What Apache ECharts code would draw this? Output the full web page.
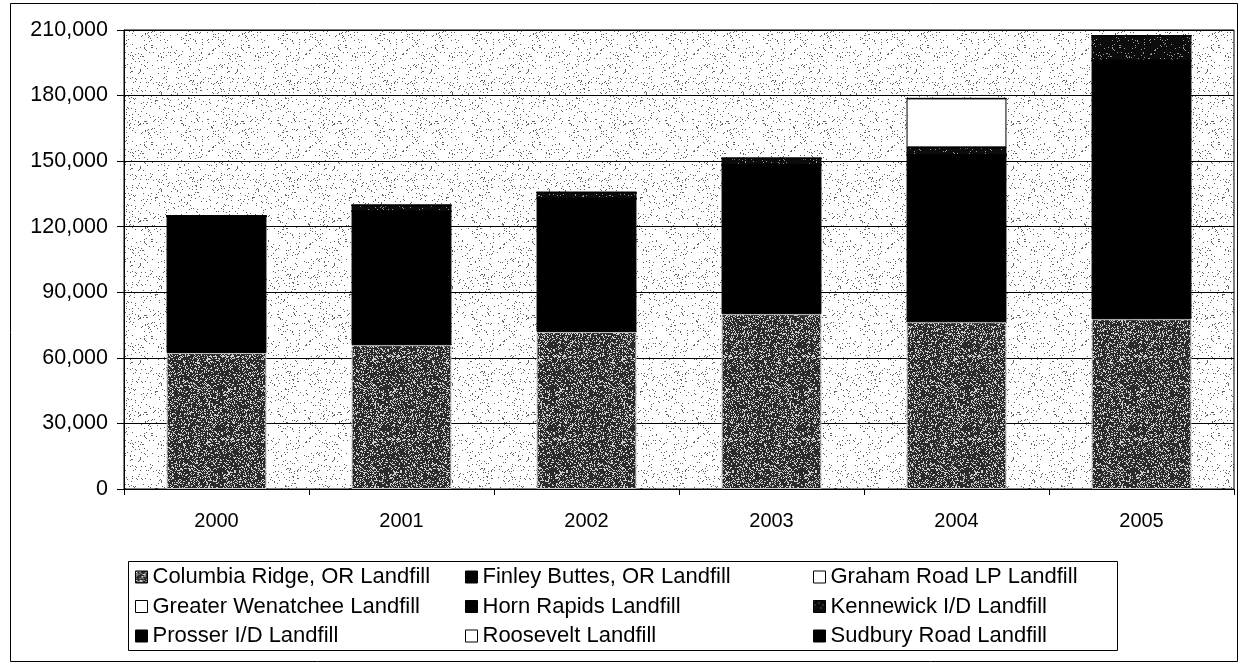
<!DOCTYPE html>
<html>
<head>
<meta charset="utf-8">
<script src="https://cdn.jsdelivr.net/npm/echarts@6/dist/echarts.min.js"></script>
<style>
  html, body { margin: 0; padding: 0; background: #fff; }
  #chart { width: 1242px; height: 666px; }
</style>
</head>
<body>
<div id="chart"></div>
<script>
// Tonnage delivered to each landfill, by year
const years = ['2000', '2001', '2002', '2003', '2004', '2005'];
const columbiaRidge    = [62200, 65800, 71800, 80000, 76300, 77700];
const finleyButtes     = [62600, 61300, 61200, 68300, 76500, 118300];
const grahamRoad       = [0, 0, 0, 0, 0, 0];
const greaterWenatchee = [0, 0, 0, 0, 0, 0];
const hornRapids       = [0, 0, 0, 0, 0, 0];
const kennewickID      = [0, 2700, 2700, 3000, 3500, 11400];
const prosserID        = [0, 0, 0, 0, 0, 0];
const roosevelt        = [0, 0, 0, 0, 22400, 0];
const sudburyRoad      = [0, 0, 0, 0, 0, 0];
const yTicks = { min: 0, max: 210000, interval: 30000 };

// Stipple fill: a small tile of deterministic dots over a base tone
function stipple(base, dot, density, size) {
  const c = document.createElement('canvas');
  c.width = size; c.height = size;
  const g = c.getContext('2d');
  g.fillStyle = base;
  g.fillRect(0, 0, size, size);
  g.fillStyle = dot;
  for (let y = 0; y < size; y++) {
    for (let x = 0; x < size; x++) {
      let h = (x * 374761393 + y * 668265263) >>> 0;
      h = ((h ^ (h >>> 13)) * 1274126177) >>> 0;
      h = (h ^ (h >>> 16)) >>> 0;
      if ((h % 1000) / 1000 < density) g.fillRect(x, y, 1, 1);
    }
  }
  return { image: c, repeat: 'repeat' };
}

const plotFill      = stipple('#ffffff', '#606060', 0.055, 97);
const columbiaFill  = stipple('#2a2a2a', '#d0d0d0', 0.26, 83);
const kennewickFill = stipple('#0c0c0c', '#9a9a9a', 0.06, 71);

const FONT = '"Liberation Sans", Arial, sans-serif';

function bar(name, data, color, border) {
  return {
    name: name,
    type: 'bar',
    stack: 'total',
    barWidth: '54%',
    data: data,
    itemStyle: { color: color, borderColor: border || '#000', borderWidth: 1 },
    emphasis: { disabled: true }
  };
}

const series = [
  bar('Columbia Ridge, OR Landfill', columbiaRidge, columbiaFill, '#c8c8c8'),
  bar('Finley Buttes, OR Landfill', finleyButtes, '#000000'),
  bar('Graham Road LP Landfill', grahamRoad, '#ffffff'),
  bar('Greater Wenatchee Landfill', greaterWenatchee, '#ffffff'),
  bar('Horn Rapids Landfill', hornRapids, '#000000'),
  bar('Kennewick I/D Landfill', kennewickID, kennewickFill),
  bar('Prosser I/D Landfill', prosserID, '#000000'),
  bar('Roosevelt Landfill', roosevelt, '#ffffff'),
  bar('Sudbury Road Landfill', sudburyRoad, '#000000')
];

function legendColumn(left, names) {
  return {
    orient: 'vertical',
    left: left,
    top: 566,
    padding: 0,
    itemWidth: 12,
    itemHeight: 12,
    itemGap: 7.5,
    icon: 'rect',
    selectedMode: false,
    data: names,
    itemStyle: { borderColor: '#000', borderWidth: 1 },
    textStyle: { fontFamily: FONT, fontSize: 22, color: '#000', lineHeight: 22 }
  };
}

const chart = echarts.init(document.getElementById('chart'), null, { renderer: 'canvas' });
chart.setOption({
  animation: false,
  backgroundColor: '#ffffff',
  grid: {
    left: 124, right: 8, top: 30, bottom: 177,
    show: true,
    backgroundColor: plotFill,
    borderColor: '#000',
    borderWidth: 1
  },
  xAxis: {
    type: 'category',
    data: years,
    axisLine: { lineStyle: { color: '#000', width: 1 } },
    axisTick: { show: true, length: 6, alignWithLabel: false, lineStyle: { color: '#000' } },
    axisLabel: { fontFamily: FONT, fontSize: 20, color: '#000', margin: 22 }
  },
  yAxis: {
    type: 'value',
    min: yTicks.min,
    max: yTicks.max,
    interval: yTicks.interval,
    axisLine: { show: true, lineStyle: { color: '#000', width: 1 } },
    axisTick: { show: true, length: 7, lineStyle: { color: '#000' } },
    splitLine: { lineStyle: { color: '#000', width: 1 } },
    axisLabel: {
      fontFamily: FONT, fontSize: 21.5, color: '#000', margin: 16,
      formatter: v => v.toLocaleString('en-US')
    }
  },
  legend: [
    legendColumn(135, ['Columbia Ridge, OR Landfill', 'Greater Wenatchee Landfill', 'Prosser I/D Landfill']),
    legendColumn(465, ['Finley Buttes, OR Landfill', 'Horn Rapids Landfill', 'Roosevelt Landfill']),
    legendColumn(813, ['Graham Road LP Landfill', 'Kennewick I/D Landfill', 'Sudbury Road Landfill'])
  ],
  graphic: [
    { type: 'rect', shape: { x: 10.5, y: 3.5, width: 1227, height: 658 },
      style: { fill: 'none', stroke: '#000', lineWidth: 1 }, silent: true, z: -1 },
    { type: 'rect', shape: { x: 128.5, y: 561.5, width: 989, height: 89 },
      style: { fill: 'none', stroke: '#000', lineWidth: 1 }, silent: true }
  ],
  series: series
});
</script>
</body>
</html>
